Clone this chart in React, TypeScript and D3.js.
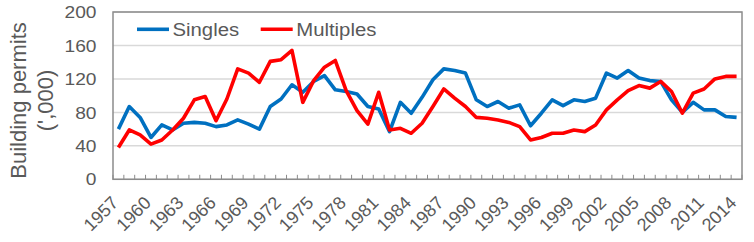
import React from "react";
import * as d3 from "d3";

const years: number[] = d3.range(1957, 2015);
const singles: number[] = [
  60, 87, 74, 50, 65, 59, 67, 68, 67, 63,
  65, 71, 66, 60, 87, 96, 113, 104, 117, 124,
  107, 105, 102, 87, 84, 57, 92, 79, 98, 119,
  132, 130, 127, 95, 87, 93, 85, 89, 64, 79,
  95, 88, 95, 93, 97, 127, 121, 130, 121, 118,
  117, 95, 80, 92, 83, 83, 75, 74,
];
const multiples: number[] = [
  38, 59, 53, 42, 47, 59, 73, 95, 99, 70,
  96, 132, 127, 116, 141, 143, 154, 92, 118, 134,
  142, 106, 82, 66, 104, 59, 61, 55, 67, 87,
  108, 97, 87, 74, 73, 71, 68, 63, 47, 50,
  55, 55, 59, 57, 65, 83, 95, 106, 112, 109,
  117, 105, 79, 103, 108, 120, 123, 123,
];
const yTicks: number[] = [0, 40, 80, 120, 160, 200];
const xLabelYears: number[] = years.filter((y) => (y - 1957) % 3 === 0);
const seriesNames: string[] = ["Singles", "Multiples"];
const seriesColors: string[] = ["#0070C0", "#FF0000"];
const yTitle: string[] = ["Building permits", "(',000)"];

const W = 754;
const H = 242;
const L = 113;
const R = 742;
const T = 12;
const B = 179.3;
const SX = 1.13;
const FONT = "'Liberation Sans', Arial, sans-serif";
const TXT = "#595959";

export default function App() {
  const x = d3.scaleBand<number>().domain(years).range([L, R]).padding(0);
  const bw = x.bandwidth();
  const cx = (yr: number) => (x(yr) as number) + bw / 2;
  const y = d3.scaleLinear().domain([0, 200]).range([B, T]);

  const line = d3
    .line<number>()
    .x((_, i) => cx(years[i]))
    .y((d) => y(d));

  const series = [singles, multiples];
  const boundaries = d3.range(0, years.length + 1).map((k) => L + k * bw);

  return (
    <svg
      width={W}
      height={H}
      style={{ position: "absolute", left: 0, top: 0, background: "#fff" }}
      fontFamily={FONT}
    >
      {yTicks.map((t) => (
        <line key={"g" + t} x1={L} x2={R} y1={y(t)} y2={y(t)} stroke="#d9d9d9" strokeWidth={1.5} />
      ))}
      {boundaries.map((bx, i) => (
        <line key={"t" + i} x1={bx} x2={bx} y1={B} y2={B - 4.5} stroke="#8c8c8c" strokeWidth={1} />
      ))}
      <rect x={L} y={T} width={R - L} height={B - T} fill="none" stroke="#8c8c8c" strokeWidth={1.5} />

      {series.map((s, i) => (
        <path
          key={"s" + i}
          d={line(s) || ""}
          fill="none"
          stroke={seriesColors[i]}
          strokeWidth={3.6}
          strokeLinejoin="round"
        />
      ))}

      {yTicks.map((t) => (
        <g key={"yl" + t} transform={`translate(96.5,${y(t)}) scale(${SX},1)`}>
          <text textAnchor="end" dy="0.36em" fontSize={17} fill={TXT}>
            {t}
          </text>
        </g>
      ))}

      {xLabelYears.map((yr) => (
        <g key={"xl" + yr} transform={`translate(${cx(yr) + 1},${204}) rotate(-45)`}>
          <text textAnchor="end" fontSize={18} fill={TXT}>
            {yr}
          </text>
        </g>
      ))}

      <g transform={`translate(26,${100.5}) rotate(-90)`}>
        <text textAnchor="middle" fontSize={22} fill={TXT}>
          {yTitle[0]}
        </text>
      </g>
      <g transform={`translate(53,${100.5}) rotate(-90)`}>
        <text textAnchor="middle" fontSize={22} fill={TXT}>
          {yTitle[1]}
        </text>
      </g>

      {seriesNames.map((n, i) => {
        const lx = i === 0 ? 137 : 260.7;
        const ly = 29.3;
        return (
          <g key={"lg" + i}>
            <line x1={lx} x2={lx + 32} y1={ly} y2={ly} stroke={seriesColors[i]} strokeWidth={3.6} />
            <g transform={`translate(${lx + 35.5},${ly}) scale(${SX},1)`}>
              <text dy="0.36em" fontSize={18} fill={TXT}>
                {n}
              </text>
            </g>
          </g>
        );
      })}
    </svg>
  );
}
